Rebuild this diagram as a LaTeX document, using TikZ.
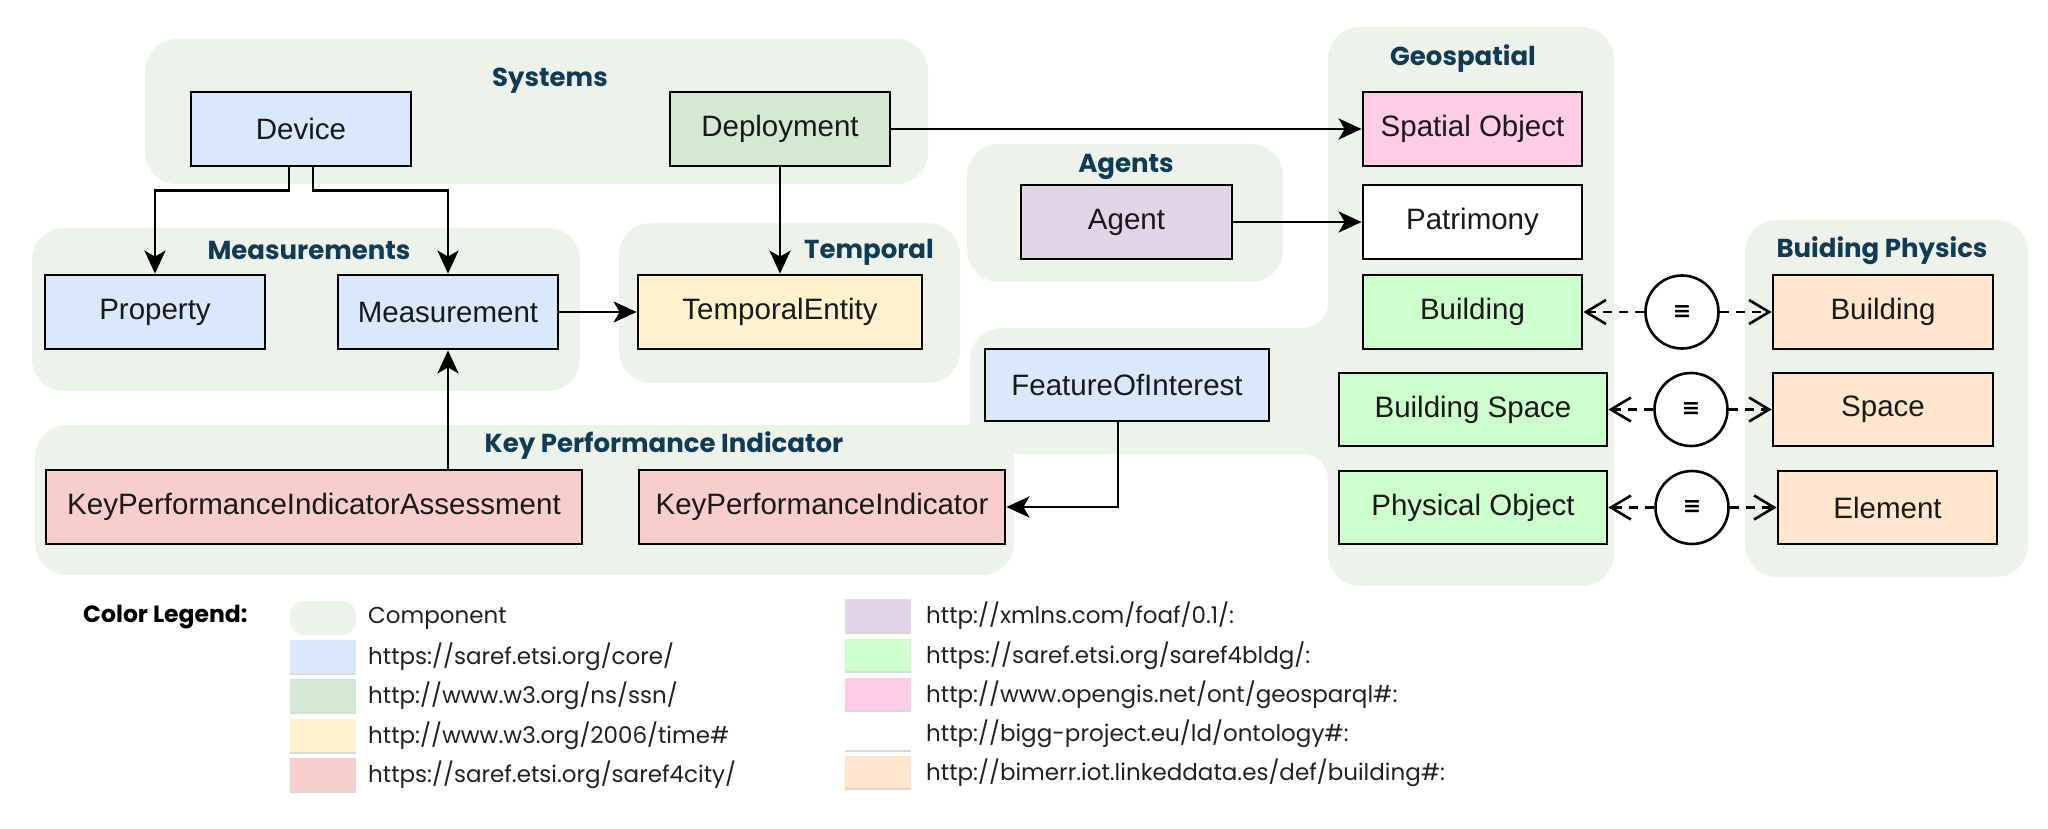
\documentclass[tikz,border=0pt]{standalone}
\usepackage{fontspec}
\setmainfont{Liberation Sans}
\newfontfamily\popfont{Poppins}
\newfontfamily\symfont{DejaVu Sans}
\usetikzlibrary{arrows.meta,calc}
\definecolor{compc}{HTML}{EDF2EA}
\definecolor{titlec}{HTML}{103B57}
\definecolor{corec}{HTML}{DAE8FC}
\definecolor{ssnc}{HTML}{D5E8D4}
\definecolor{timec}{HTML}{FFF2CC}
\definecolor{cityc}{HTML}{F8CECC}
\definecolor{foafc}{HTML}{E1D5E7}
\definecolor{bldgc}{HTML}{CCFFCC}
\definecolor{geoc}{HTML}{FFCCE6}
\definecolor{biggc}{HTML}{FFFFFF}
\definecolor{bimerrc}{HTML}{FFE6CC}
\begin{document}
\begin{tikzpicture}[x=1pt,y=-1pt,
  comp/.style={fill=compc, rounded corners=32pt},
  cls/.style={draw=black, line width=2.8pt, inner sep=0pt, font=\fontsize{29.5}{34}\selectfont, text=black!90, minimum height=74pt},
  ttl/.style={font=\popfont\bfseries\fontsize{26}{30}\selectfont, text=titlec, inner sep=0pt},
  arr/.style={line width=2.6pt, -{Stealth[length=23pt,width=21pt,inset=6pt]}},
  eqv/.style={line width=2.6pt, dash pattern=on 9pt off 7pt, -{Straight Barb[length=20pt,width=24pt]}},
  eqc/.style={circle, draw=black, line width=2.6pt, fill=white, minimum size=73pt, inner sep=0pt},
  lgtext/.style={anchor=west, inner sep=0pt, font=\popfont\fontsize{23}{27}\selectfont, text=black!87},
  swline/.style={draw=black!15, line width=1.5pt}
]
\useasboundingbox (0,0) rectangle (2048,829);
\fill[white] (0,0) rectangle (2048,829);

% components
\fill[comp] (145,39) rectangle (928,184);
\fill[comp] (32,228) rectangle (580,391);
\fill[comp] (619,223) rectangle (960,383);
\fill[comp] (967,144) rectangle (1283,282);
\fill[comp] (970,328) rectangle (1400,454);
\fill[comp] (1328,27) rectangle (1614,586);
\fill[comp] (35,425) rectangle (1014,575);
\fill[comp] (1745,220) rectangle (2028,577);
\fill[compc] (1328,328) -- (1303,328) .. controls (1316.8,328) and (1328,316.8) .. (1328,303) -- cycle;
\fill[compc] (1328,454) -- (1303,454) .. controls (1316.8,454) and (1328,465.2) .. (1328,479) -- cycle;

% titles
\node[ttl] (tsys) at (550,81) {Systems};
\node[ttl] (tmeas) at (309,250) {Measurements};
\node[ttl] (ttemp) at (869,252) {Temporal};
\node[ttl] (tagents) at (1126,167) {Agents};
\node[ttl] (tgeo) at (1463,59) {Geospatial};
\node[ttl] (tkpi) at (664,446) {Key Performance Indicator};
\node[ttl] (tbp) at (1882,251) {Buiding Physics};

% classes
\node[cls, fill=corec, minimum width=220pt] (device) at (301,129) {Device};
\node[cls, fill=ssnc, minimum width=220pt] (deploy) at (780,129) {Deployment};
\node[cls, fill=corec, minimum width=220pt] (property) at (155,312) {Property};
\node[cls, fill=corec, minimum width=220pt] (meas) at (448,312) {Measurement};
\node[cls, fill=timec, minimum width=284pt] (tent) at (780,312) {TemporalEntity};
\node[cls, fill=foafc, minimum width=211pt] (agent) at (1126.5,222) {Agent};
\node[cls, fill=geoc, minimum width=219pt] (spatial) at (1472.5,129) {Spatial Object};
\node[cls, fill=biggc, minimum width=219pt] (patri) at (1472.5,222) {Patrimony};
\node[cls, fill=bldgc, minimum width=219pt] (bldg) at (1472.5,312) {Building};
\node[cls, fill=bldgc, minimum width=268pt, minimum height=73pt] (bspace) at (1473,409.5) {Building Space};
\node[cls, fill=bldgc, minimum width=268pt, minimum height=73pt] (physobj) at (1473,507.5) {Physical Object};
\node[cls, fill=corec, minimum width=284pt, minimum height=72pt] (foi) at (1127,385) {FeatureOfInterest};
\node[cls, fill=cityc, minimum width=536pt] (kpia) at (314,507) {KeyPerformanceIndicatorAssessment};
\node[cls, fill=cityc, minimum width=366pt] (kpi) at (822,507) {KeyPerformanceIndicator};
\node[cls, fill=bimerrc, minimum width=220pt] (bpbldg) at (1883,312) {Building};
\node[cls, fill=bimerrc, minimum width=220pt, minimum height=73pt] (bpspace) at (1883,409.5) {Space};
\node[cls, fill=bimerrc, minimum width=219pt, minimum height=73pt] (bpelem) at (1887.5,507.5) {Element};

% equivalence circles
\node[eqc] (eq1) at (1682,312) {\symfont\bfseries\fontsize{22}{22}\selectfont ≡};
\node[eqc] (eq2) at (1691,409.5) {\symfont\bfseries\fontsize{22}{22}\selectfont ≡};
\node[eqc] (eq3) at (1692,507.5) {\symfont\bfseries\fontsize{22}{22}\selectfont ≡};

% connectors
\draw[arr] ([xshift=-12pt]device.south) -- ++(0,23) -| (property.north);
\draw[arr] ([xshift=12pt]device.south) -- ++(0,23) -| (meas.north);
\draw[arr] (deploy.south) -- (tent.north);
\draw[arr] (deploy.east) -- (spatial.west);
\draw[arr] (meas.east) -- (tent.west);
\draw[arr] (meas.south |- kpia.north) -- (meas.south);
\draw[arr] (agent.east) -- (patri.west);
\draw[arr] ([xshift=-9pt]foi.south) |- (kpi.east);
\draw[eqv] (eq1.west) -- (bldg.east);
\draw[eqv] (eq1.east) -- (bpbldg.west);
\draw[eqv] (eq2.west) -- (bspace.east);
\draw[eqv] (eq2.east) -- (bpspace.west);
\draw[eqv] (eq3.west) -- (physobj.east);
\draw[eqv] (eq3.east) -- (bpelem.west);

% legend
\node[anchor=west, inner sep=0pt, font=\popfont\bfseries\fontsize{23.5}{28}\selectfont] (lgt) at (83,617) {Color Legend:};
\fill[compc, rounded corners=14pt] (290,601) rectangle (356,635);
\fill[corec] (290,640) rectangle (356,674); \draw[swline] (290,674) -- (356,674);
\fill[ssnc] (290,679) rectangle (356,713); \draw[swline] (290,713) -- (356,713);
\fill[timec] (290,719) rectangle (356,753); \draw[swline] (290,753) -- (356,753);
\fill[cityc] (290,758) rectangle (356,792); \draw[swline] (290,792) -- (356,792);
\fill[foafc] (845,599) rectangle (911,633); \draw[swline] (845,633) -- (911,633);
\fill[bldgc] (845,639) rectangle (911,672); \draw[swline] (845,672) -- (911,672);
\fill[geoc] (845,678) rectangle (911,711); \draw[swline] (845,711) -- (911,711);
\fill[biggc] (845,717) rectangle (911,751); \draw[swline] (845,751) -- (911,751);
\fill[bimerrc] (845,756) rectangle (911,789); \draw[swline] (845,789) -- (911,789);
\node[lgtext] (l1) at (368,618) {Component};
\node[lgtext] (l2) at (368,657) {https://saref.etsi.org/core/};
\node[lgtext] (l3) at (368,696) {http://www.w3.org/ns/ssn/};
\node[lgtext] (l4) at (368,736) {http://www.w3.org/2006/time\#};
\node[lgtext] (l5) at (368,775) {https://saref.etsi.org/saref4city/};
\node[lgtext] (r1) at (926,616) {http://xmlns.com/foaf/0.1/:};
\node[lgtext] (r2) at (926,655.5) {https://saref.etsi.org/saref4bldg/:};
\node[lgtext] (r3) at (926,694.5) {http://www.opengis.net/ont/geosparql\#:};
\node[lgtext] (r4) at (926,734) {http://bigg-project.eu/ld/ontology\#:};
\node[lgtext] (r5) at (926,772.5) {http://bimerr.iot.linkeddata.es/def/building\#:};
\end{tikzpicture}
\end{document}
